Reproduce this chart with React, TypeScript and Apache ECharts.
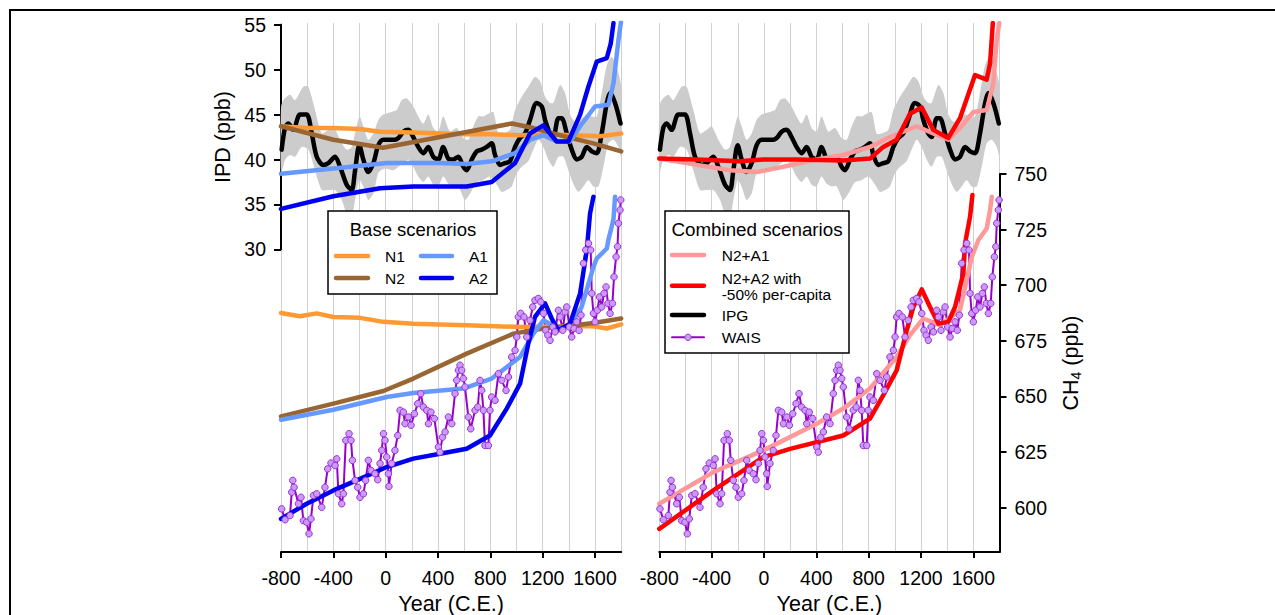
import React, { useEffect, useRef } from 'react';
import * as echarts from 'echarts';

const FONT = '"Liberation Sans", Arial, Helvetica, sans-serif';

// ---------- axis scaffolding ----------
const xCats = ['-800', '-600', '-400', '-200', '0', '200', '400', '600', '800', '1000', '1200', '1400', '1600', '1800'];
const xTickYears = [-800, -400, 0, 400, 800, 1200, 1600];
const ipdTicks = [30, 35, 40, 45, 50, 55];
const ch4Ticks = [600, 625, 650, 675, 700, 725, 750];

// ---------- IPG (IPD, ppb) ----------
const ipgIPD = [
  [-795, 41.1], [-768, 43.6], [-744, 44.0], [-706, 43.3], [-655, 45.0], [-604, 45.0], [-565, 42.9], [-527, 40.3],
  [-477, 39.4], [-438, 39.6], [-387, 40.3], [-349, 39.2], [-298, 37.2], [-260, 36.6], [-234, 38.8], [-201, 41.6],
  [-171, 40.0], [-133, 38.6], [-94, 39.6], [-56, 41.6], [-18, 42.2], [33, 42.2], [71, 42.2], [104, 42.5],
  [135, 43.1], [173, 43.3], [211, 42.5], [249, 41.4], [288, 40.7], [326, 41.4], [364, 40.3], [402, 40.0],
  [440, 41.4], [479, 40.1], [517, 40.0], [555, 40.3], [593, 39.2], [619, 38.8], [658, 40.0], [696, 40.9],
  [734, 41.1], [772, 41.4], [810, 41.8], [836, 40.5], [874, 39.4], [912, 39.6], [950, 39.8], [989, 41.4],
  [1027, 42.4], [1065, 42.9], [1103, 44.4], [1154, 46.3], [1193, 45.9], [1218, 44.4], [1256, 42.9], [1281, 42.5],
  [1320, 44.6], [1345, 44.6], [1384, 42.9], [1422, 41.1], [1460, 40.0], [1498, 40.3], [1537, 41.4], [1575, 40.9],
  [1613, 40.7], [1651, 42.9], [1690, 46.3], [1715, 47.4], [1753, 46.3], [1795, 44.0],
];
const ipgUpper = [
  [-800, 45.8], [-782, 46.6], [-731, 47.2], [-693, 46.6], [-630, 48.1], [-591, 48.1], [-540, 45.5], [-489, 42.9],
  [-438, 43.3], [-400, 43.7], [-349, 42.2], [-298, 41.1], [-260, 41.4], [-201, 44.8], [-171, 43.7], [-133, 42.2],
  [-94, 42.9], [-56, 44.4], [-18, 45.0], [46, 45.3], [84, 45.5], [122, 46.6], [161, 46.8], [211, 45.9],
  [249, 44.8], [288, 44.0], [326, 45.0], [364, 43.5], [402, 43.1], [440, 44.8], [492, 43.1], [542, 43.5],
  [593, 42.4], [632, 42.2], [670, 43.7], [708, 44.8], [746, 44.8], [785, 45.1], [823, 45.3], [861, 42.9],
  [899, 42.9], [950, 43.3], [989, 45.5], [1040, 47.0], [1090, 48.1], [1141, 49.2], [1180, 48.7], [1218, 47.0],
  [1256, 46.3], [1281, 46.3], [1333, 48.3], [1371, 47.4], [1409, 45.0], [1447, 44.2], [1486, 44.4], [1537, 45.0],
  [1575, 44.8], [1613, 44.8], [1651, 47.4], [1690, 50.5], [1728, 51.4], [1766, 50.3], [1800, 48.1],
];
const ipgLower = [
  [-800, 38.5], [-768, 40.0], [-731, 40.5], [-693, 40.3], [-642, 41.4], [-591, 41.1], [-540, 38.8], [-489, 36.6],
  [-438, 36.6], [-387, 36.6], [-336, 35.5], [-298, 34.0], [-260, 33.6], [-234, 35.5], [-201, 37.7], [-171, 37.0],
  [-133, 35.5], [-94, 36.2], [-56, 38.5], [-5, 39.0], [59, 38.8], [97, 39.2], [135, 39.6], [173, 40.0],
  [211, 39.2], [249, 38.1], [288, 37.5], [326, 38.1], [364, 37.2], [402, 37.0], [440, 38.1], [479, 37.3],
  [517, 37.0], [555, 37.0], [606, 35.5], [645, 36.2], [696, 37.5], [746, 37.7], [797, 38.1], [849, 37.2],
  [887, 36.4], [925, 36.6], [963, 37.0], [1002, 38.5], [1040, 39.2], [1090, 39.8], [1129, 41.1], [1167, 42.2],
  [1205, 41.4], [1243, 40.0], [1281, 39.2], [1320, 40.3], [1358, 40.3], [1396, 38.8], [1434, 37.3], [1473, 36.4],
  [1511, 37.0], [1549, 37.7], [1588, 37.0], [1626, 37.0], [1664, 39.2], [1702, 41.8], [1741, 42.2], [1779, 41.4],
  [1800, 40.3],
];

// ---------- WAIS (CH4, ppb) ----------
const waisCH4 = [
  [-795, 599.4], [-769, 594.5], [-731, 596.4], [-718, 606.9], [-710, 612.2], [-700, 609.1], [-667, 601.7], [-647, 604.6],
  [-629, 594.1], [-604, 593.4], [-586, 588.2], [-571, 594.9], [-552, 605.4], [-527, 606.2], [-489, 600.1], [-464, 609.1],
  [-443, 617.4], [-418, 620.0], [-387, 618.9], [-374, 621.9], [-361, 606.2], [-336, 601.7], [-323, 606.2], [-305, 630.2],
  [-280, 633.2], [-265, 630.2], [-254, 621.2], [-234, 612.2], [-214, 609.1], [-196, 604.6], [-170, 606.2], [-153, 612.2],
  [-132, 621.2], [-112, 616.7], [-82, 615.2], [-61, 612.5], [-43, 619.8], [-30, 625.7], [-17, 633.2], [-5, 630.2],
  [8, 622.7], [21, 615.2], [25, 609.5], [46, 619.8], [71, 625.7], [92, 632.4], [110, 643.7], [135, 642.9],
  [148, 637.7], [174, 640.7], [194, 637.0], [220, 642.2], [245, 646.7], [268, 651.2], [288, 645.2], [314, 643.7],
  [327, 637.7], [346, 642.9], [372, 640.0], [403, 627.2], [415, 624.9], [434, 631.6], [454, 634.0], [479, 640.7],
  [505, 637.7], [530, 651.2], [543, 657.2], [556, 661.7], [568, 664.0], [581, 661.7], [594, 658.0], [606, 654.2],
  [632, 640.7], [650, 635.4], [683, 643.7], [704, 645.2], [721, 657.2], [734, 652.7], [747, 643.7], [759, 627.9],
  [785, 627.9], [797, 643.7], [810, 649.7], [836, 648.2], [862, 660.2], [887, 657.2], [920, 652.7], [938, 658.7],
  [963, 667.7], [989, 670.7], [1002, 676.7], [1014, 685.7], [1032, 687.3], [1057, 685.7], [1078, 676.7], [1103, 684.2],
  [1124, 690.2], [1141, 693.2], [1167, 694.0], [1185, 692.5], [1206, 687.3], [1223, 679.7], [1239, 677.5], [1256, 675.2],
  [1277, 681.2], [1295, 679.0], [1320, 688.7], [1333, 685.7], [1353, 679.7], [1371, 688.0], [1384, 690.2], [1404, 681.2],
  [1422, 676.7], [1439, 680.5], [1460, 683.5], [1478, 679.7], [1493, 686.5], [1511, 709.8], [1529, 715.8], [1550, 718.8],
  [1567, 715.8], [1575, 696.3], [1588, 687.3], [1600, 683.5], [1618, 688.7], [1634, 694.7], [1651, 690.2], [1669, 696.3],
  [1684, 699.2], [1699, 691.8], [1715, 687.3], [1733, 691.8], [1745, 703.7], [1761, 712.7], [1772, 717.3], [1779, 727.8],
  [1791, 733.8], [1797, 738.3],
];

// ---------- Base scenarios ----------
const n1IPD = [[-800, 43.7], [-604, 43.5], [-400, 43.5], [-196, 43.4], [-43, 43.1], [211, 43.0], [415, 42.9], [619, 42.8], [823, 42.8], [1027, 42.7], [1231, 42.8], [1434, 42.7], [1638, 42.6], [1800, 42.9]];
const n2IPD = [[-800, 43.7], [-400, 42.2], [-20, 41.3], [963, 44.0], [1129, 43.5], [1384, 42.5], [1588, 41.8], [1800, 40.9]];
const a1IPD = [[-800, 38.4], [-400, 39.0], [8, 39.6], [211, 39.6], [415, 39.6], [619, 39.5], [810, 39.8], [989, 40.7], [1103, 42.2], [1205, 42.7], [1307, 42.0], [1409, 42.0], [1486, 43.7], [1600, 45.9], [1702, 46.1], [1741, 48.5], [1779, 53.3], [1798, 55.3]];
const a2IPD = [[-800, 34.5], [-400, 35.9], [-43, 36.8], [211, 37.0], [619, 37.0], [810, 37.5], [989, 39.6], [1103, 42.9], [1205, 43.8], [1256, 42.9], [1307, 42.0], [1396, 42.0], [1486, 45.0], [1549, 48.1], [1613, 50.9], [1690, 51.3], [1720, 52.9], [1741, 55.2]];
const n1CH4 = [[-800, 687.5], [-655, 686.0], [-527, 687.3], [-400, 685.7], [-196, 685.3], [-18, 683.5], [211, 682.7], [619, 682.0], [1027, 681.2], [1384, 681.5], [1588, 681.5], [1690, 680.5], [1800, 682.4]];
const n2CH4 = [[-800, 641.0], [-400, 646.7], [-18, 652.4], [211, 658.0], [619, 669.2], [976, 678.2], [1205, 680.5], [1384, 681.5], [1588, 683.0], [1800, 685.0]];
const a1CH4 = [[-800, 639.5], [-400, 644.0], [8, 649.7], [211, 651.5], [593, 653.5], [810, 658.0], [1027, 667.7], [1129, 678.2], [1205, 684.2], [1320, 680.5], [1396, 681.2], [1498, 690.2], [1588, 708.2], [1613, 712.0], [1690, 716.5], [1702, 720.3], [1741, 729.6], [1753, 739.8]];
const a2CH4 = [[-800, 594.9], [-604, 601.7], [-400, 607.7], [-196, 612.9], [8, 618.2], [211, 622.0], [415, 624.2], [619, 626.4], [797, 632.4], [925, 644.5], [1027, 655.7], [1090, 673.7], [1141, 685.7], [1218, 691.8], [1269, 685.0], [1320, 679.7], [1409, 682.7], [1486, 696.3], [1537, 715.8], [1562, 732.3], [1588, 739.8]];

// ---------- Combined scenarios ----------
const n2a1IPD = [[-800, 40.1], [-514, 39.4], [-260, 38.8], [-55, 38.6], [148, 39.2], [403, 40.0], [606, 40.5], [810, 41.4], [963, 42.5], [1167, 43.7], [1294, 42.9], [1409, 42.2], [1498, 43.5], [1600, 45.3], [1702, 45.5], [1753, 48.5], [1779, 53.3], [1798, 55.2]];
const n2a2IPD = [[-800, 40.1], [-514, 40.0], [-183, 39.8], [-5, 40.0], [250, 40.0], [606, 39.9], [810, 40.1], [912, 41.4], [1014, 42.2], [1116, 45.1], [1205, 45.8], [1294, 43.3], [1409, 42.4], [1498, 44.6], [1613, 49.4], [1702, 48.9], [1728, 50.7], [1749, 55.2]];
const n2a1CH4 = [[-800, 601.7], [-387, 615.9], [-5, 625.7], [403, 637.7], [606, 644.5], [810, 653.5], [1014, 667.7], [1116, 677.5], [1218, 685.0], [1345, 682.0], [1498, 688.7], [1588, 712.7], [1639, 720.3], [1702, 725.5], [1728, 733.8], [1741, 739.8]];
const n2a2CH4 = [[-800, 590.4], [-387, 607.7], [-5, 622.7], [199, 626.4], [606, 632.4], [810, 640.0], [912, 650.5], [1014, 661.7], [1091, 679.7], [1142, 690.2], [1206, 698.1], [1269, 690.2], [1333, 682.7], [1409, 683.5], [1460, 690.2], [1524, 705.3], [1537, 718.8], [1575, 730.8], [1593, 740.5]];

// ---------- styling / layout ----------
const C = {
  n1: '#FF9933', n2: '#996633', a1: '#6699FF', a2: '#0000F0',
  n2a1: '#FF9999', n2a2: '#FF0000', ipg: '#000000', band: '#CCCCCC',
  waisLine: '#9900CC', waisFill: '#CC99FF', waisBorder: '#9933CC', grid: '#D0D0D0',
};
const X_MIN = -800, X_MAX = 1800;
const PANEL_W = 340.2;
const LEFT_X = 281, RIGHT_X = 659.3;
const TOP = 23, BOTTOM = 552;
const CH4_MIN = 580, CH4_FULL_MAX = 817.9, CH4_AXIS_MAX = 750;
const IPD_FULL_MIN = -3.71, IPD_FULL_MAX = 55.2;
const LW = 4.5;

const ch4Cats: string[] = [];
for (let v = CH4_MIN; v <= CH4_AXIS_MAX; v += 5) ch4Cats.push(String(v));

const axisLineStyle = { color: '#000', width: 2 };
const labelStyle = { color: '#000', fontSize: 19.5, fontFamily: FONT };
const nameStyle = { color: '#000', fontSize: 21.5, fontFamily: FONT };

function lineSeries(data: number[][], color: string, xi: number, yi: number, width = LW) {
  return {
    type: 'line', data, xAxisIndex: xi, yAxisIndex: yi, symbol: 'none', showSymbol: false,
    lineStyle: { color, width, cap: 'round', join: 'round' }, silent: true, emphasis: { disabled: true },
  };
}
function bandSeries(xi: number, yi: number) {
  return {
    type: 'custom', xAxisIndex: xi, yAxisIndex: yi, silent: true, data: [[-800, 40]],
    renderItem: (_p: any, api: any) => {
      const pts = ipgUpper.map((d) => api.coord(d)).concat(ipgLower.slice().reverse().map((d) => api.coord(d)));
      return { type: 'polygon', shape: { points: pts, smooth: 0.25 }, style: { fill: C.band } };
    },
  };
}
function ipgSeries(xi: number, yi: number) {
  return { ...lineSeries(ipgIPD, C.ipg, xi, yi, LW), smooth: 0.3 };
}
function waisSeries(xi: number, yi: number) {
  return {
    type: 'line', data: waisCH4, xAxisIndex: xi, yAxisIndex: yi, symbol: 'circle', symbolSize: 6.5, showSymbol: true,
    showAllSymbol: true, lineStyle: { color: C.waisLine, width: 2 },
    itemStyle: { color: C.waisFill, borderColor: C.waisBorder, borderWidth: 1 }, silent: true, emphasis: { disabled: true },
  };
}
function displayXAxis(grid: number) {
  return {
    type: 'category', gridIndex: grid, data: xCats, boundaryGap: false, position: 'bottom',
    axisLine: { show: true, onZero: false, lineStyle: axisLineStyle },
    axisTick: { show: true, length: 6, lineStyle: { color: '#000', width: 2 }, interval: (i: number) => xTickYears.includes(Number(xCats[i])) },
    axisLabel: { ...labelStyle, margin: 16, interval: (i: number) => xTickYears.includes(Number(xCats[i])) },
    splitLine: { show: true, interval: 0, lineStyle: { color: C.grid, width: 1 } },
    name: 'Year (C.E.)', nameLocation: 'middle', nameGap: 39, nameTextStyle: nameStyle,
  };
}
function hiddenX(grid: number) {
  return { type: 'value', gridIndex: grid, min: X_MIN, max: X_MAX, show: false };
}

function legendGraphics() {
  const els: any[] = [];
  const txt = (x: number, y: number, text: string, size: number, align = 'left') => ({
    type: 'text', x, y, z: 102,
    style: { text, fontSize: size, fontFamily: FONT, fill: '#000', align, textAlign: align, verticalAlign: 'middle', textVerticalAlign: 'middle' },
  });
  const seg = (x1: number, x2: number, y: number, color: string, w = LW) => ({
    type: 'line', z: 101, shape: { x1, y1: y, x2, y2: y }, style: { stroke: color, lineWidth: w, lineCap: 'round' },
  });
  // left legend
  els.push({ type: 'rect', z: 100, shape: { x: 328, y: 211, width: 169, height: 83 }, style: { fill: '#fff', stroke: '#000', lineWidth: 1.5 } });
  els.push(txt(413, 229, 'Base scenarios', 18.5, 'center'));
  els.push(seg(336, 368, 256, C.n1), txt(385, 256.5, 'N1', 15.5));
  els.push(seg(421, 452, 256, C.a1), txt(469, 256.5, 'A1', 15.5));
  els.push(seg(336, 368, 278, C.n2), txt(385, 278.5, 'N2', 15.5));
  els.push(seg(421, 452, 278, C.a2), txt(469, 278.5, 'A2', 15.5));
  // right legend
  els.push({ type: 'rect', z: 100, shape: { x: 665, y: 211, width: 184, height: 142 }, style: { fill: '#fff', stroke: '#000', lineWidth: 1.5 } });
  els.push(txt(757, 229, 'Combined scenarios', 18.8, 'center'));
  els.push(seg(672, 704, 255, C.n2a1), txt(721.7, 255, 'N2+A1', 15.5));
  els.push(seg(672, 704, 285.7, C.n2a2), txt(721.7, 278.3, 'N2+A2 with', 15.5), txt(721.7, 294.3, '-50% per-capita', 15.5));
  els.push(seg(672, 704, 315, C.ipg), txt(721.7, 315, 'IPG', 15.5));
  els.push(seg(672, 704, 337.3, C.waisLine, 2));
  els.push({ type: 'circle', z: 102, shape: { cx: 688, cy: 337.3, r: 3.2 }, style: { fill: C.waisFill, stroke: C.waisBorder, lineWidth: 1 } });
  els.push(txt(721.7, 337.3, 'WAIS', 15.5));
  // frame
  els.push({ type: 'line', z: 100, shape: { x1: 9, y1: 10, x2: 1275, y2: 10 }, style: { stroke: '#000', lineWidth: 2 } });
  els.push({ type: 'line', z: 100, shape: { x1: 10, y1: 9, x2: 10, y2: 615 }, style: { stroke: '#000', lineWidth: 2 } });
  return els;
}

function buildOption(): any {
  const fullH = BOTTOM - TOP;
  return {
    animation: false,
    backgroundColor: '#fff',
    textStyle: { fontFamily: FONT },
    grid: [
      { left: LEFT_X, top: TOP, width: PANEL_W, height: fullH, outerBoundsMode: 'none', containLabel: false },
      { left: LEFT_X, top: 24.8, width: PANEL_W, height: 224.5, outerBoundsMode: 'none', containLabel: false },
      { left: RIGHT_X, top: TOP, width: PANEL_W, height: fullH, outerBoundsMode: 'none', containLabel: false },
      { left: RIGHT_X, top: 174, width: PANEL_W, height: BOTTOM - 174, outerBoundsMode: 'none', containLabel: false },
    ],
    xAxis: [displayXAxis(0), hiddenX(0), hiddenX(1), displayXAxis(2), hiddenX(2), hiddenX(3)],
    yAxis: [
      { type: 'value', gridIndex: 0, min: CH4_MIN, max: CH4_FULL_MAX, show: false },
      { type: 'value', gridIndex: 0, min: IPD_FULL_MIN, max: IPD_FULL_MAX, show: false, position: 'right' },
      {
        type: 'value', gridIndex: 1, min: ipdTicks[0], max: ipdTicks[ipdTicks.length - 1], interval: 5, position: 'left',
        axisLine: { show: true, onZero: false, lineStyle: axisLineStyle },
        axisTick: { show: true, length: 7, lineStyle: { color: '#000', width: 2 } },
        axisLabel: { ...labelStyle, margin: 15 }, splitLine: { show: false },
        name: 'IPD (ppb)', nameLocation: 'middle', nameGap: 47, nameRotate: 90, nameTextStyle: nameStyle,
      },
      { type: 'value', gridIndex: 2, min: CH4_MIN, max: CH4_FULL_MAX, show: false },
      { type: 'value', gridIndex: 2, min: IPD_FULL_MIN, max: IPD_FULL_MAX, show: false, position: 'right' },
      {
        type: 'category', gridIndex: 3, data: ch4Cats, boundaryGap: false, position: 'right',
        axisLine: { show: true, onZero: false, lineStyle: axisLineStyle },
        axisTick: { show: true, length: 7, lineStyle: { color: '#000', width: 2 }, interval: (i: number) => ch4Ticks.includes(Number(ch4Cats[i])) },
        axisLabel: { ...labelStyle, margin: 15, interval: (i: number) => ch4Ticks.includes(Number(ch4Cats[i])) },
        splitLine: { show: false },
        name: '{a|CH}{b|4}{a| (ppb)}', nameLocation: 'middle', nameGap: 60, nameRotate: 90,
        nameTextStyle: {
          rich: {
            a: { fontSize: 21.5, fontFamily: FONT, color: '#000', lineHeight: 23 },
            b: { fontSize: 14, fontFamily: FONT, color: '#000', lineHeight: 12, verticalAlign: 'bottom' },
          },
        },
      },
    ],
    series: [
      // left panel
      bandSeries(1, 1),
      ipgSeries(1, 1),
      waisSeries(1, 0),
      lineSeries(n1IPD, C.n1, 1, 1), lineSeries(n1CH4, C.n1, 1, 0),
      lineSeries(n2IPD, C.n2, 1, 1), lineSeries(n2CH4, C.n2, 1, 0),
      lineSeries(a1IPD, C.a1, 1, 1), lineSeries(a1CH4, C.a1, 1, 0),
      lineSeries(a2IPD, C.a2, 1, 1), lineSeries(a2CH4, C.a2, 1, 0),
      // right panel
      bandSeries(4, 4),
      ipgSeries(4, 4),
      waisSeries(4, 3),
      lineSeries(n2a1IPD, C.n2a1, 4, 4), lineSeries(n2a1CH4, C.n2a1, 4, 3),
      lineSeries(n2a2IPD, C.n2a2, 4, 4), lineSeries(n2a2CH4, C.n2a2, 4, 3),
    ],
    graphic: { elements: legendGraphics() },
  };
}

export default function App() {
  const ref = useRef<HTMLDivElement>(null);
  useEffect(() => {
    if (!ref.current) return;
    const chart = echarts.init(ref.current, null, { renderer: 'svg' });
    chart.setOption(buildOption());
    return () => chart.dispose();
  }, []);
  return <div ref={ref} style={{ position: 'fixed', left: 0, top: 0, width: 1275, height: 615, background: '#fff' }} />;
}
